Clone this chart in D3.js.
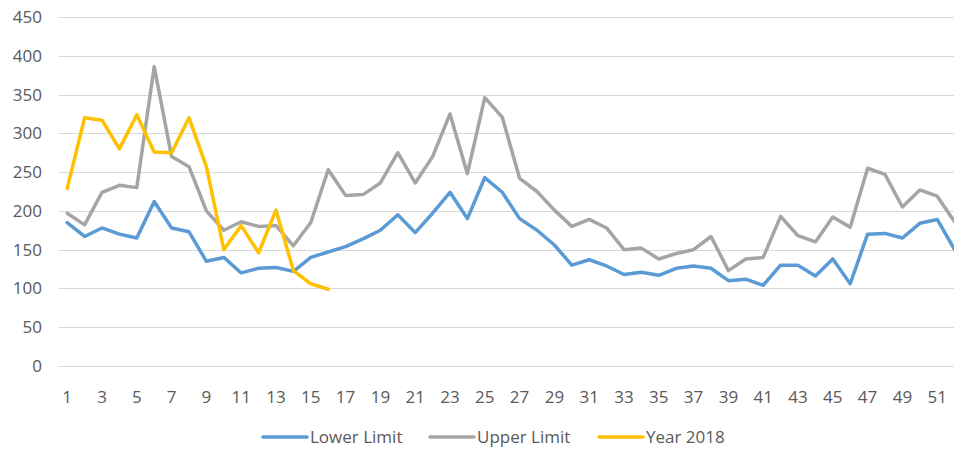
<!DOCTYPE html>
<html lang="en">
<head>
<meta charset="UTF-8">
<title>Lower / Upper Limit vs Year 2018</title>
<script src="https://d3js.org/d3.v7.min.js"></script>
<style>
  body { margin: 0; background: #fff; font-family: "Open Sans", sans-serif; }
  svg { display: block; }
</style>
</head>
<body>
<div id="chart"></div>
<script>
  // week numbers 1..52
  const weeks = [1,2,3,4,5,6,7,8,9,10,11,12,13,14,15,16,17,18,19,20,21,22,23,24,25,26,
                 27,28,29,30,31,32,33,34,35,36,37,38,39,40,41,42,43,44,45,46,47,48,49,50,51,52];

  const lowerLimit = [185,167,178,170,165,212,178,173,135,140,120,126,127,122,140,147,
                      154,164,175,195,172,197,224,190,243,224,190,175,156,130,137,129,
                      118,121,117,126,129,126,110,112,104,130,130,116,138,106,170,171,
                      165,184,189,150];

  const upperLimit = [197,182,224,233,230,386,270,257,200,175,186,180,181,155,185,253,
                      220,221,236,275,236,270,325,248,346,321,242,225,201,180,189,178,
                      150,152,138,145,150,167,123,138,140,193,168,160,192,179,255,247,
                      205,227,219,186];

  const year2018 = [229,320,317,280,324,276,275,320,257,150,181,146,201,123,106,99];

  const yTicks = [0,50,100,150,200,250,300,350,400,450];

  const series = [
    {name: "Lower Limit", values: lowerLimit, color: "#5B9BD5"},
    {name: "Upper Limit", values: upperLimit, color: "#A5A5A5"},
    {name: "Year 2018", values: year2018, color: "#FFC000"}
  ];

  const width = 954, height = 453;
  const plot = {left: 58.5, right: 963.3, top: 17, bottom: 366};
  const fontSize = "17px";

  const svg = d3.select("#chart").append("svg")
      .attr("width", width)
      .attr("height", height);

  const x = d3.scaleBand()
      .domain(weeks)
      .range([plot.left, plot.right]);

  const y = d3.scaleLinear()
      .domain([0, 450])
      .range([plot.bottom, plot.top]);

  const cx = d => x(d) + x.bandwidth() / 2;

  // gridlines
  svg.append("g").selectAll("line")
      .data(yTicks)
      .join("line")
      .attr("x1", plot.left)
      .attr("x2", plot.right)
      .attr("y1", d => Math.round(y(d)) + 0.5)
      .attr("y2", d => Math.round(y(d)) + 0.5)
      .attr("stroke", "#D9D9D9")
      .attr("stroke-width", 1);

  // y labels
  svg.append("g").selectAll("text")
      .data(yTicks)
      .join("text")
      .attr("x", 42)
      .attr("y", d => y(d))
      .attr("dy", "0.35em")
      .attr("text-anchor", "end")
      .attr("fill", "#595959")
      .style("font-size", fontSize)
      .text(d => d);

  // x labels (every other week)
  svg.append("g").selectAll("text")
      .data(weeks.filter(w => w % 2 === 1))
      .join("text")
      .attr("x", d => cx(d))
      .attr("y", 397)
      .attr("dy", "0.35em")
      .attr("text-anchor", "middle")
      .attr("fill", "#595959")
      .style("font-size", fontSize)
      .text(d => d);

  const line = d3.line()
      .x((d, i) => cx(weeks[i]))
      .y(d => y(d));

  svg.append("g").selectAll("path")
      .data(series)
      .join("path")
      .attr("d", d => line(d.values))
      .attr("fill", "none")
      .attr("stroke", d => d.color)
      .attr("stroke-width", 3.5)
      .attr("stroke-linejoin", "round")
      .attr("stroke-linecap", "round");

  // legend
  const legendX = [263, 430, 599];
  const legend = svg.append("g").selectAll("g")
      .data(series)
      .join("g")
      .attr("transform", (d, i) => `translate(${legendX[i]},437)`);

  legend.append("line")
      .attr("x1", 0).attr("x2", 44)
      .attr("stroke", d => d.color)
      .attr("stroke-width", 3.5)
      .attr("stroke-linecap", "round");

  legend.append("text")
      .attr("x", 47)
      .attr("dy", "0.35em")
      .attr("fill", "#595959")
      .style("font-size", fontSize)
      .text(d => d.name);
</script>
</body>
</html>
